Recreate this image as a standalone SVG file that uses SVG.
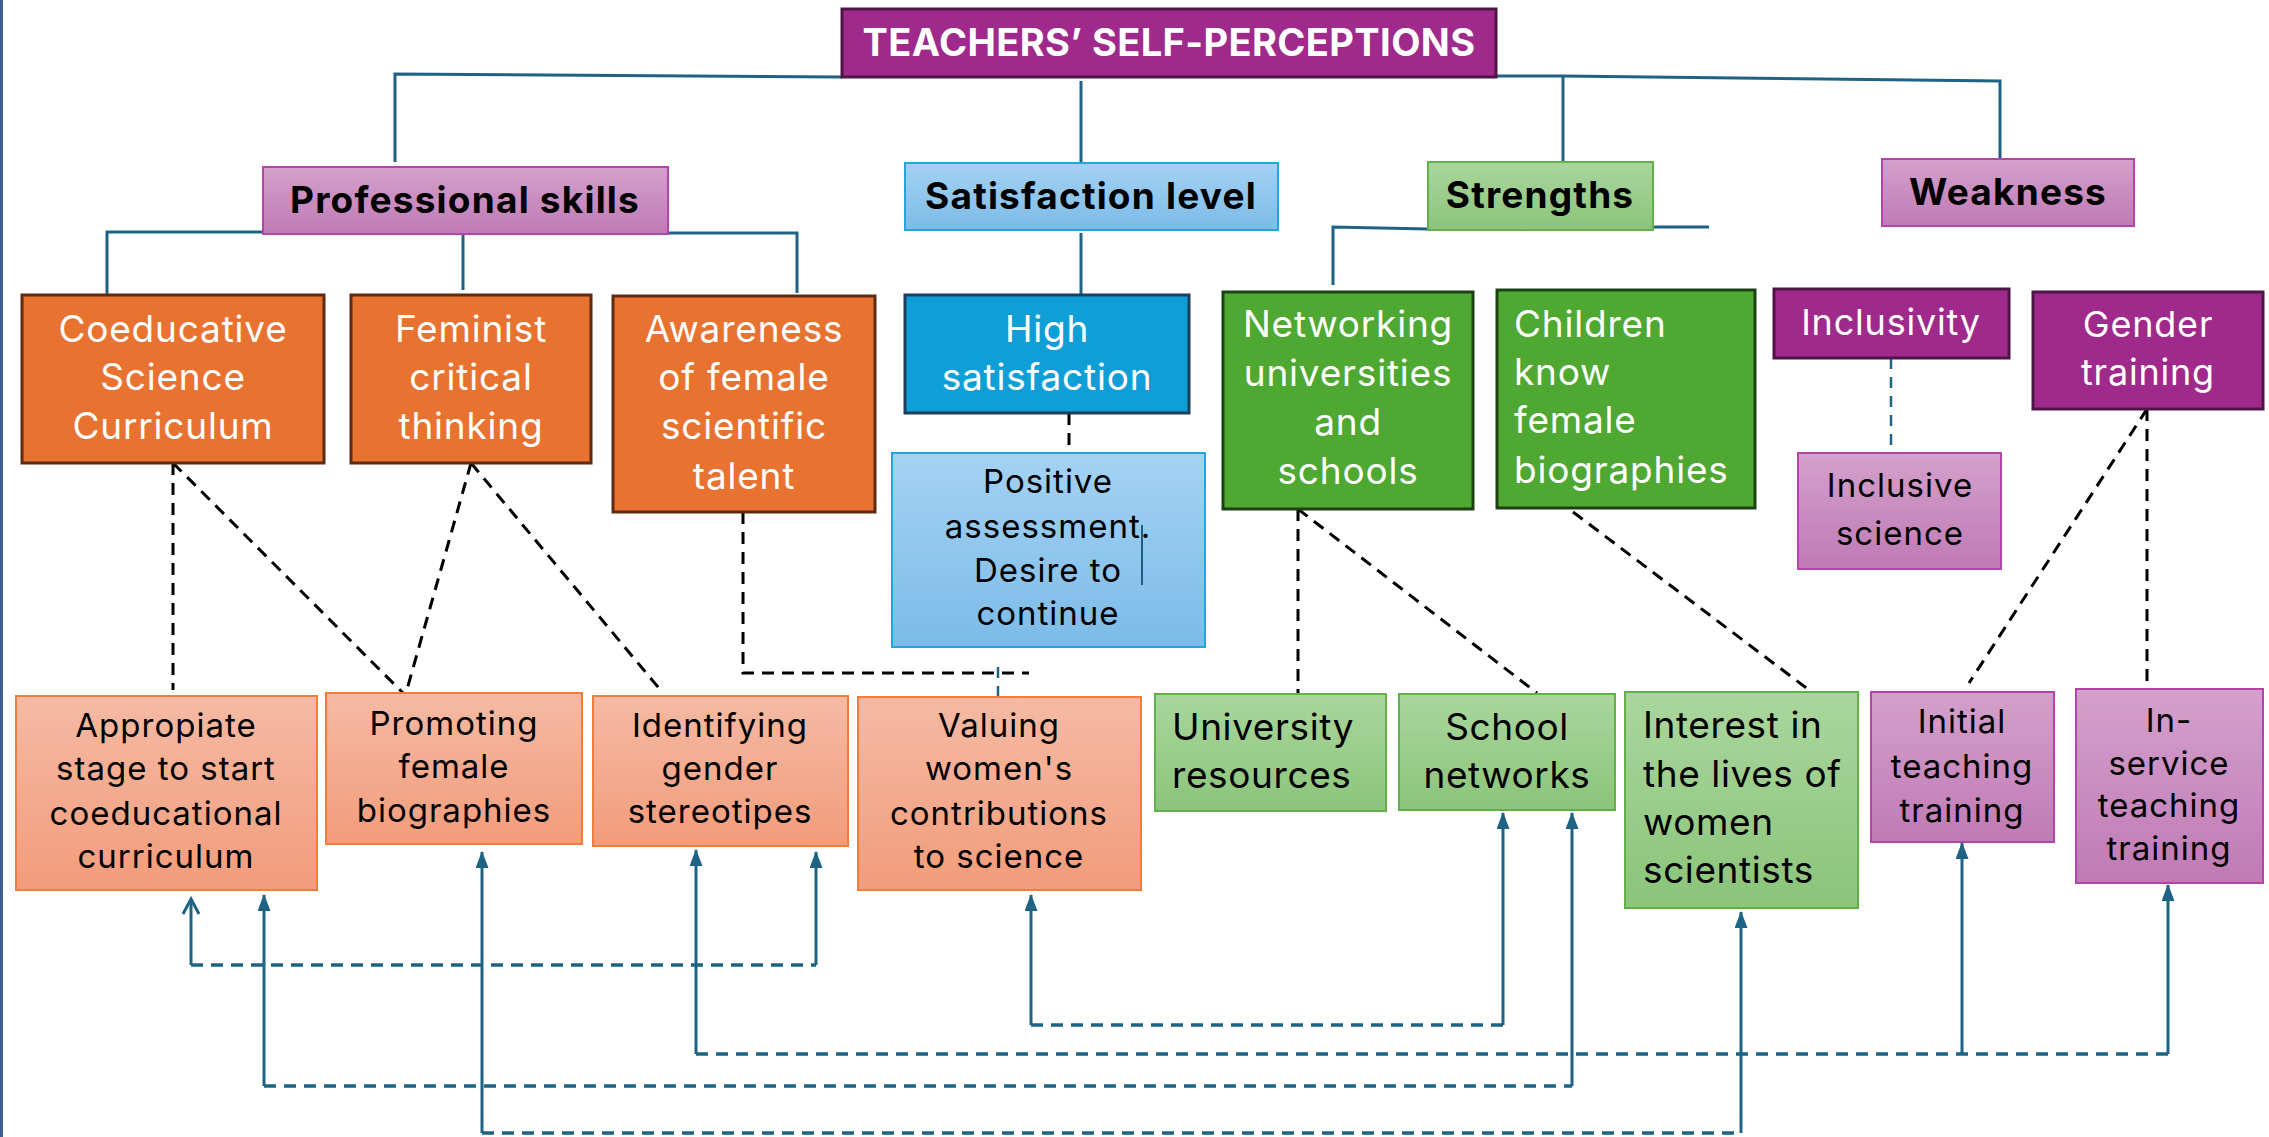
<svg xmlns="http://www.w3.org/2000/svg" width="2269" height="1137" viewBox="0 0 2269 1137">
  <defs>
    <linearGradient id="gPink" x1="0" y1="0" x2="0" y2="1">
      <stop offset="0" stop-color="#d4a0cc"/><stop offset="1" stop-color="#c07ab5"/>
    </linearGradient>
    <linearGradient id="gBlue" x1="0" y1="0" x2="0" y2="1">
      <stop offset="0" stop-color="#a4d2f4"/><stop offset="1" stop-color="#7cbbe8"/>
    </linearGradient>
    <linearGradient id="gGreen" x1="0" y1="0" x2="0" y2="1">
      <stop offset="0" stop-color="#aad69d"/><stop offset="1" stop-color="#8bc47a"/>
    </linearGradient>
    <linearGradient id="gPeach" x1="0" y1="0" x2="0" y2="1">
      <stop offset="0" stop-color="#f5baa4"/><stop offset="1" stop-color="#f29c7b"/>
    </linearGradient>
    <!-- filled arrowhead, drawn along +x so orient="auto" points it along the line -->
    <marker id="arr" viewBox="0 0 17 13" refX="16" refY="6.5" markerWidth="17" markerHeight="13" markerUnits="userSpaceOnUse" orient="auto">
      <path d="M0,0 L17,6.5 L0,13 Z" fill="#1e6384"/>
    </marker>
    <!-- open chevron arrowhead -->
    <marker id="open" viewBox="0 0 20 20" refX="17" refY="10" markerWidth="20" markerHeight="20" markerUnits="userSpaceOnUse" orient="auto">
      <path d="M2,2 L17,10 L2,18" fill="none" stroke="#1e6384" stroke-width="3"/>
    </marker>
    <style>
      text { font-family: Inter, "Liberation Sans", sans-serif; }
      .hd { font-size: 37px; font-weight: 700; fill: #000; text-anchor: middle; letter-spacing: 1.2px; }
      .wt { font-size: 37px; fill: #fff; text-anchor: middle; letter-spacing: 0.8px; }
      .wl { font-size: 37px; fill: #fff; letter-spacing: 0.8px; }
      .ws { font-size: 36px; fill: #fff; text-anchor: middle; letter-spacing: 0.8px; }
      .bk { font-size: 33px; fill: #000; text-anchor: middle; letter-spacing: 1px; }
      .bkl { font-size: 37px; fill: #000; letter-spacing: 0.6px; }
      .bkm { font-size: 37px; fill: #000; text-anchor: middle; letter-spacing: 0.6px; }
      .ln { fill: none; stroke: #1e6384; stroke-width: 3; }
      .dk { fill: none; stroke: #000; stroke-width: 3; stroke-dasharray: 12 8; }
      .td { fill: none; stroke: #1e6384; stroke-width: 2.5; stroke-dasharray: 11 8; }
      .bd { fill: none; stroke: #1e6384; stroke-width: 3.5; stroke-dasharray: 12 8; }
      .pink { fill: url(#gPink); stroke: #b444a8; stroke-width: 2; }
      .lblue { fill: url(#gBlue); stroke: #28a4dc; stroke-width: 2; }
      .lgreen { fill: url(#gGreen); stroke: #62b048; stroke-width: 2; }
      .peach { fill: url(#gPeach); stroke: #f07d3c; stroke-width: 2; }
      .orange { fill: #e8722f; stroke: #5e2a12; stroke-width: 3; }
      .blue { fill: #109ed6; stroke: #1b3f5c; stroke-width: 3; }
      .green { fill: #4ea832; stroke: #1c4214; stroke-width: 3; }
      .purple { fill: #a02a8c; stroke: #4e1446; stroke-width: 3; }
    </style>
  </defs>

  <rect x="0" y="0" width="3" height="1137" fill="#3d5f8c"/>

  <!-- tree connectors and dashed links -->
  <g id="connectors">
    <polyline class="ln" points="842,77 395,74 395,162"/>
    <polyline class="ln" points="1382,76 1563,76 2000,81 2000,159"/>
    <line class="ln" x1="1563" y1="76" x2="1563" y2="162"/>
    <line class="ln" x1="1081" y1="81" x2="1081" y2="163"/>

    <polyline class="ln" points="273,232 107,232 107,294"/>
    <line class="ln" x1="463" y1="230" x2="463" y2="290"/>
    <polyline class="ln" points="668,233 797,233 797,293"/>
    <line class="ln" x1="1081" y1="233" x2="1081" y2="294"/>
    <polyline class="ln" points="1428,229 1333,227 1333,285"/>
    <line class="ln" x1="1653" y1="227" x2="1709" y2="227"/>

    <line class="dk" x1="173" y1="463" x2="173" y2="690"/>
    <line class="dk" x1="173" y1="463" x2="403" y2="693"/>
    <line class="dk" x1="471" y1="463" x2="406" y2="693"/>
    <line class="dk" x1="471" y1="463" x2="663" y2="693"/>
    <polyline class="dk" points="743,512 743,673 1029,673"/>
    <line class="td" x1="998" y1="667" x2="998" y2="697" stroke-dasharray="16 10"/>
    <line class="dk" x1="1069" y1="413" x2="1069" y2="452"/>
    <line class="dk" x1="1298" y1="509" x2="1298" y2="693"/>
    <line class="dk" x1="1298" y1="509" x2="1537" y2="693"/>
    <line class="dk" x1="1573" y1="512" x2="1813" y2="693"/>
    <line class="dk" x1="2147" y1="409" x2="1969" y2="683"/>
    <line class="dk" x1="2147" y1="409" x2="2147" y2="689"/>
    <line class="td" x1="1891" y1="358" x2="1891" y2="445"/>

    <!-- bottom loops -->
    <line class="ln" x1="191" y1="965" x2="191" y2="899" marker-end="url(#open)"/>
    <line class="bd" x1="191" y1="965" x2="816" y2="965"/>
    <line class="ln" x1="816" y1="965" x2="816" y2="852" marker-end="url(#arr)"/>

    <line class="ln" x1="264" y1="1086" x2="264" y2="895" marker-end="url(#arr)"/>
    <line class="bd" x1="264" y1="1086" x2="1572" y2="1086"/>
    <line class="ln" x1="1572" y1="1086" x2="1572" y2="813" marker-end="url(#arr)"/>

    <line class="ln" x1="482" y1="1133" x2="482" y2="852" marker-end="url(#arr)"/>
    <line class="bd" x1="482" y1="1133" x2="1741" y2="1133"/>
    <line class="ln" x1="1741" y1="1133" x2="1741" y2="912" marker-end="url(#arr)"/>

    <line class="ln" x1="696" y1="1054" x2="696" y2="850" marker-end="url(#arr)"/>
    <line class="bd" x1="696" y1="1054" x2="2168" y2="1054"/>
    <line class="ln" x1="1962" y1="1054" x2="1962" y2="843" marker-end="url(#arr)"/>
    <line class="ln" x1="2168" y1="1054" x2="2168" y2="885" marker-end="url(#arr)"/>

    <line class="ln" x1="1031" y1="1025" x2="1031" y2="895" marker-end="url(#arr)"/>
    <line class="bd" x1="1031" y1="1025" x2="1503" y2="1025"/>
    <line class="ln" x1="1503" y1="1025" x2="1503" y2="813" marker-end="url(#arr)"/>
  </g>

  <g id="title">
    <rect class="purple" x="842" y="9" width="654" height="68"/>
    <text x="1169" y="56" font-size="38" font-weight="700" fill="#fff" text-anchor="middle" letter-spacing="0.4">TEACHERS’ SELF-PERCEPTIONS</text>
  </g>

  <g id="professional-skills">
    <rect class="pink" x="263" y="167" width="405" height="67"/>
    <text class="hd" x="465" y="213">Professional skills</text>
  </g>
  <g id="satisfaction-level">
    <rect class="lblue" x="905" y="163" width="373" height="67"/>
    <text class="hd" x="1091" y="209">Satisfaction level</text>
  </g>
  <g id="strengths">
    <rect class="lgreen" x="1428" y="162" width="225" height="68"/>
    <text class="hd" x="1540" y="208">Strengths</text>
  </g>
  <g id="weakness">
    <rect class="pink" x="1882" y="159" width="252" height="67"/>
    <text class="hd" x="2008" y="205">Weakness</text>
  </g>

  <g id="coeducative-curriculum">
    <rect class="orange" x="22" y="295" width="302" height="168"/>
    <text class="wt"><tspan x="173" y="342">Coeducative</tspan><tspan x="173" y="390">Science</tspan><tspan x="173" y="439">Curriculum</tspan></text>
  </g>
  <g id="feminist-thinking">
    <rect class="orange" x="351" y="295" width="240" height="168"/>
    <text class="wt"><tspan x="471" y="342">Feminist</tspan><tspan x="471" y="390">critical</tspan><tspan x="471" y="439">thinking</tspan></text>
  </g>
  <g id="female-talent">
    <rect class="orange" x="613" y="296" width="262" height="216"/>
    <text class="wt"><tspan x="744" y="342">Awareness</tspan><tspan x="744" y="390">of female</tspan><tspan x="744" y="439">scientific</tspan><tspan x="744" y="489">talent</tspan></text>
  </g>
  <g id="high-satisfaction">
    <rect class="blue" x="905" y="295" width="284" height="118"/>
    <text class="wt"><tspan x="1047" y="342">High</tspan><tspan x="1047" y="390">satisfaction</tspan></text>
  </g>
  <g id="positive-assessment">
    <rect class="lblue" x="892" y="453" width="313" height="194"/>
    <text class="bk" letter-spacing="0.8"><tspan x="1048" y="493">Positive</tspan><tspan x="1048" y="538">assessment.</tspan><tspan x="1048" y="582">Desire to</tspan><tspan x="1048" y="625">continue</tspan></text>
    <line x1="1142" y1="525" x2="1142" y2="585" stroke="#1e5f80" stroke-width="2"/>
  </g>
  <g id="networking">
    <rect class="green" x="1223" y="292" width="250" height="217"/>
    <text class="wt"><tspan x="1348" y="337">Networking</tspan><tspan x="1348" y="386">universities</tspan><tspan x="1348" y="435">and</tspan><tspan x="1348" y="484">schools</tspan></text>
  </g>
  <g id="children-biographies">
    <rect class="green" x="1497" y="290" width="258" height="218"/>
    <text class="wl"><tspan x="1514" y="337">Children</tspan><tspan x="1514" y="385">know</tspan><tspan x="1514" y="433">female</tspan><tspan x="1514" y="483">biographies</tspan></text>
  </g>
  <g id="inclusivity">
    <rect class="purple" x="1774" y="289" width="235" height="69"/>
    <text class="ws" x="1891" y="335">Inclusivity</text>
  </g>
  <g id="inclusive-science">
    <rect class="pink" x="1798" y="453" width="203" height="116"/>
    <text class="bk" font-size="37" letter-spacing="2.2"><tspan x="1900" y="497">Inclusive</tspan><tspan x="1900" y="545">science</tspan></text>
  </g>
  <g id="gender-training">
    <rect class="purple" x="2033" y="292" width="230" height="117"/>
    <text class="ws"><tspan x="2148" y="337">Gender</tspan><tspan x="2148" y="385">training</tspan></text>
  </g>

  <g id="appropiate-stage">
    <rect class="peach" x="16" y="696" width="301" height="194"/>
    <text class="bk"><tspan x="166" y="737">Appropiate</tspan><tspan x="166" y="780">stage to start</tspan><tspan x="166" y="825">coeducational</tspan><tspan x="166" y="868">curriculum</tspan></text>
  </g>
  <g id="promoting-biographies">
    <rect class="peach" x="326" y="693" width="256" height="151"/>
    <text class="bk"><tspan x="454" y="735">Promoting</tspan><tspan x="454" y="778">female</tspan><tspan x="454" y="822">biographies</tspan></text>
  </g>
  <g id="identifying-stereotipes">
    <rect class="peach" x="593" y="696" width="255" height="150"/>
    <text class="bk"><tspan x="720" y="737">Identifying</tspan><tspan x="720" y="780">gender</tspan><tspan x="720" y="823">stereotipes</tspan></text>
  </g>
  <g id="valuing-contributions">
    <rect class="peach" x="858" y="697" width="283" height="193"/>
    <text class="bk"><tspan x="999" y="737">Valuing</tspan><tspan x="999" y="780">women's</tspan><tspan x="999" y="825">contributions</tspan><tspan x="999" y="868">to science</tspan></text>
  </g>
  <g id="university-resources">
    <rect class="lgreen" x="1155" y="694" width="231" height="117"/>
    <text class="bkl"><tspan x="1172" y="740">University</tspan><tspan x="1172" y="788">resources</tspan></text>
  </g>
  <g id="school-networks">
    <rect class="lgreen" x="1399" y="694" width="216" height="116"/>
    <text class="bkm"><tspan x="1507" y="740">School</tspan><tspan x="1507" y="788">networks</tspan></text>
  </g>
  <g id="interest-lives">
    <rect class="lgreen" x="1625" y="692" width="233" height="216"/>
    <text class="bkl"><tspan x="1643" y="738">Interest in</tspan><tspan x="1643" y="787">the lives of</tspan><tspan x="1643" y="835">women</tspan><tspan x="1643" y="883">scientists</tspan></text>
  </g>
  <g id="initial-training">
    <rect class="pink" x="1871" y="692" width="183" height="150"/>
    <text class="bk"><tspan x="1962" y="733">Initial</tspan><tspan x="1962" y="778">teaching</tspan><tspan x="1962" y="822">training</tspan></text>
  </g>
  <g id="inservice-training">
    <rect class="pink" x="2076" y="689" width="187" height="194"/>
    <text class="bk"><tspan x="2169" y="732">In-</tspan><tspan x="2169" y="775">service</tspan><tspan x="2169" y="817">teaching</tspan><tspan x="2169" y="860">training</tspan></text>
  </g>
</svg>
